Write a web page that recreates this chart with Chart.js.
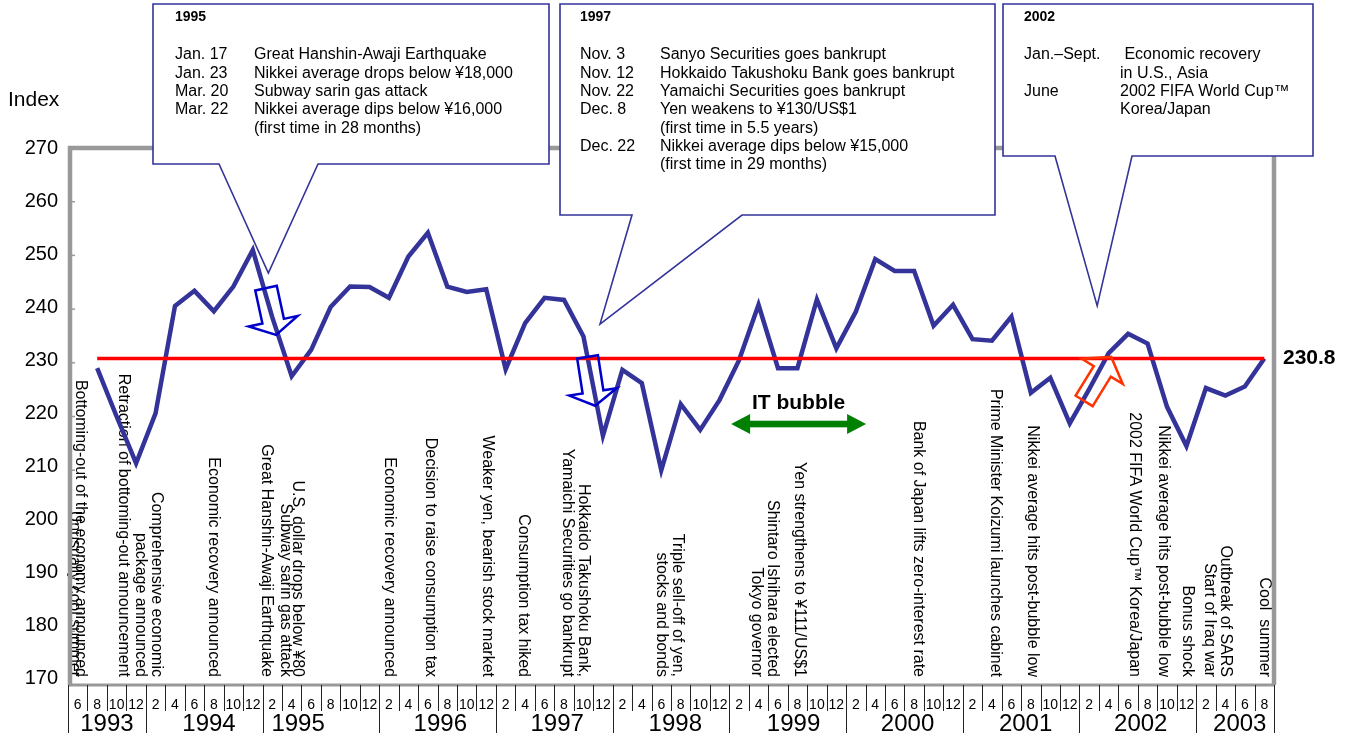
<!DOCTYPE html>
<html>
<head>
<meta charset="utf-8">
<script src="https://cdn.jsdelivr.net/npm/chart.js@4"></script>
<style>
  html, body { margin: 0; padding: 0; background: #ffffff; }
  canvas { display: block; }
</style>
</head>
<body>
<canvas id="chart" width="1353" height="739"></canvas>
<script>
// ---- data -------------------------------------------------------------
// bimonthly categories, June 1993 to August 2003
const monthLabels = [
  '6', '8', '10', '12',                    // 1993
  '2', '4', '6', '8', '10', '12',          // 1994
  '2', '4', '6', '8', '10', '12',          // 1995
  '2', '4', '6', '8', '10', '12',          // 1996
  '2', '4', '6', '8', '10', '12',          // 1997
  '2', '4', '6', '8', '10', '12',          // 1998
  '2', '4', '6', '8', '10', '12',          // 1999
  '2', '4', '6', '8', '10', '12',          // 2000
  '2', '4', '6', '8', '10', '12',          // 2001
  '2', '4', '6', '8', '10', '12',          // 2002
  '2', '4', '6', '8'                       // 2003
];
const yearLabels = ['1993', '1994', '1995', '1996', '1997', '1998', '1999', '2000', '2001', '2002', '2003'];
const yearFirstCategory = [0, 4, 10, 16, 22, 28, 34, 40, 46, 52, 58];

const indexValues = [
  null, 229.0, 220.0, 211.3,
  220.6, 240.6, 243.4, 239.6, 244.2, 251.0,
  238.5, 227.5, 232.4, 240.4, 244.2, 244.1,
  242.1, 249.8, 254.2, 244.2, 243.2, 243.7,
  228.8, 237.4, 242.1, 241.7, 234.9, 216.4,
  228.7, 226.2, 210.0, 222.3, 217.5, 223.1,
  230.5, 240.8, 229.0, 229.0, 241.8, 232.7,
  239.5, 249.3, 247.1, 247.1, 236.9, 240.8,
  234.4, 234.1, 238.6, 224.4, 227.2, 218.7,
  225.1, 231.8, 235.4, 233.6, 221.8, 214.5,
  225.3, 223.9, 225.6, 230.8
];
const currentLevel = 230.8;
const yTickValues = [170, 180, 190, 200, 210, 220, 230, 240, 250, 260, 270];

// ---- annotation text ----------------------------------------------------
const eventNotes = [
  { at: 0.15,  lines: ['Bottoming-out of the economy announced'] },
  { at: -0.15, lines: ['Unusually cool summer'] },
  { at: 2.37,  lines: ['Retraction of bottoming-out announcement'] },
  { at: 4.05,  lines: ['Comprehensive economic', 'package announced'] },
  { at: 6.97,  lines: ['Economic recovery announced'] },
  { at: 11.31, lines: ['U.S. dollar drops below \u00a580'] },
  { at: 10.7,  lines: ['Subway sarin gas attack'] },
  { at: 9.72,  lines: ['Great Hanshin-Awaji Earthquake'] },
  { at: 16.01, lines: ['Economic recovery announced'] },
  { at: 18.13, lines: ['Decision to raise consumption tax'] },
  { at: 21.05, lines: ['Weaker yen, bearish stock market'] },
  { at: 22.92, lines: ['Consumption tax hiked'] },
  { at: 26.01, lines: ['Hokkaido Takushoku Bank,', 'Yamaichi Securities go bankrupt'] },
  { at: 30.83, lines: ['Triple sell-off of yen,', 'stocks and bonds'] },
  { at: 37.1,  lines: ['Yen strengthens to \u00a5111/US$1'] },
  { at: 35.72, lines: ['Shintaro Ishihara elected', 'Tokyo governor'] },
  { at: 43.22, lines: ['Bank of Japan lifts zero-interest rate'] },
  { at: 47.2,  lines: ['Prime Minister Koizumi launches cabinet'] },
  { at: 49.09, lines: ['Nikkei average hits post-bubble low'] },
  { at: 54.34, lines: ['2002 FIFA World Cup\u2122 Korea/Japan'] },
  { at: 55.83, lines: ['Nikkei average hits post-bubble low'] },
  { at: 57.06, lines: ['Bonus shock'] },
  { at: 59.02, lines: ['Outbreak of SARS', 'Start of Iraq war'] },
  { at: 61.03, lines: ['Cool  summer'] }
];

const callouts = [
  {
    box: [153, 4, 549, 164], base: [219, 318], tip: [9.8, 246.7],
    year: '1995', dateX: 175, textX: 254,
    rows: [
      ['Jan. 17', 'Great Hanshin-Awaji Earthquake'],
      ['Jan. 23', 'Nikkei average drops below \u00a518,000'],
      ['Mar. 20', 'Subway sarin gas attack'],
      ['Mar. 22', 'Nikkei average dips below \u00a516,000'],
      ['', '(first time in 28 months)']
    ]
  },
  {
    box: [560, 4, 995, 215], base: [632, 742], tip: [26.85, 237.2],
    year: '1997', dateX: 580, textX: 660,
    rows: [
      ['Nov. 3', 'Sanyo Securities goes bankrupt'],
      ['Nov. 12', 'Hokkaido Takushoku Bank goes bankrupt'],
      ['Nov. 22', 'Yamaichi Securities goes bankrupt'],
      ['Dec. 8', 'Yen weakens to \u00a5130/US$1'],
      ['', '(first time in 5.5 years)'],
      ['Dec. 22', 'Nikkei average dips below \u00a515,000'],
      ['', '(first time in 29 months)']
    ]
  },
  {
    box: [1003, 4, 1313, 156], base: [1055, 1132], tip: [52.41, 240.6],
    year: '2002', dateX: 1024, textX: 1120,
    rows: [
      ['Jan.\u2013Sept.', ' Economic recovery'],
      ['', 'in U.S., Asia'],
      ['June', '2002 FIFA World Cup\u2122'],
      ['', 'Korea/Japan']
    ]
  }
];

const FONT = '"Liberation Sans", Arial, Helvetica, sans-serif';
const NAVY = '#333399';

// hollow block arrow, outline only
function hollowArrow(ctx, x0, y0, x1, y1, shaftW, headW, headL, color, lw) {
  const dx = x1 - x0, dy = y1 - y0, len = Math.hypot(dx, dy);
  const ux = dx / len, uy = dy / len, px = -uy, py = ux;
  const bx = x1 - ux * headL, by = y1 - uy * headL;
  const pts = [
    [x0 + px * shaftW / 2, y0 + py * shaftW / 2],
    [bx + px * shaftW / 2, by + py * shaftW / 2],
    [bx + px * headW / 2, by + py * headW / 2],
    [x1, y1],
    [bx - px * headW / 2, by - py * headW / 2],
    [bx - px * shaftW / 2, by - py * shaftW / 2],
    [x0 - px * shaftW / 2, y0 - py * shaftW / 2]
  ];
  ctx.beginPath();
  pts.forEach((p, k) => k ? ctx.lineTo(p[0], p[1]) : ctx.moveTo(p[0], p[1]));
  ctx.closePath();
  ctx.strokeStyle = color;
  ctx.lineWidth = lw;
  ctx.lineJoin = 'miter';
  ctx.stroke();
}

const decorations = {
  id: 'decorations',
  beforeDatasetsDraw(chart) {
    const { ctx, chartArea: a, scales: { x, y } } = chart;
    ctx.save();

    // vertical event notes along the bottom of the plot
    ctx.fillStyle = '#000';
    ctx.font = '16px ' + FONT;
    const noteBottom = y.getPixelForValue(170) - 8;
    eventNotes.forEach(n => {
      const px = x.getPixelForValue(n.at);
      n.lines.forEach((t, k) => {
        ctx.save();
        ctx.translate(px - k * 16, noteBottom);
        ctx.rotate(Math.PI / 2);
        ctx.textAlign = 'right';
        ctx.textBaseline = 'middle';
        ctx.fillText(t, 0, 0);
        ctx.restore();
      });
    });

    // frame
    ctx.strokeStyle = '#999999';
    ctx.lineWidth = 4.5;
    ctx.beginPath();
    ctx.moveTo(a.left + 2, a.bottom);
    ctx.lineTo(a.left + 2, a.top);
    ctx.lineTo(a.right, a.top);
    ctx.lineTo(a.right, a.bottom);
    ctx.stroke();

    // left axis ticks and labels
    ctx.lineWidth = 1.5;
    yTickValues.forEach(v => {
      const py = y.getPixelForValue(v);
      ctx.beginPath();
      ctx.moveTo(a.left + 2, py);
      ctx.lineTo(a.left + 7, py);
      ctx.stroke();
    });
    ctx.fillStyle = '#000';
    ctx.font = '20px ' + FONT;
    ctx.textAlign = 'right';
    ctx.textBaseline = 'middle';
    yTickValues.forEach(v => {
      const py = y.getPixelForValue(v) - (270 - v) * 0.07;
      ctx.fillText(String(v), 58, py);
    });
    ctx.font = '21px ' + FONT;
    ctx.textAlign = 'left';
    ctx.fillText('Index', 8, 100);

    // bottom axis
    const n = monthLabels.length;
    ctx.strokeStyle = '#999999';
    ctx.lineWidth = 3;
    ctx.beginPath();
    ctx.moveTo(a.left, a.bottom);
    ctx.lineTo(a.right, a.bottom);
    ctx.stroke();

    ctx.strokeStyle = '#222';
    ctx.lineWidth = 1;
    const longTicks = new Set([...yearFirstCategory, n]);
    for (let k = 0; k <= n; k++) {
      const px = Math.round(x.getPixelForValue(k - 0.5)) + 0.5;
      ctx.beginPath();
      ctx.moveTo(px, a.bottom);
      ctx.lineTo(px, a.bottom + (longTicks.has(k) ? 48 : 26));
      ctx.stroke();
    }

    ctx.font = '14px ' + FONT;
    ctx.textAlign = 'center';
    monthLabels.forEach((m, i) => {
      ctx.fillText(m, x.getPixelForValue(i), a.bottom + 20);
    });

    ctx.font = '24px ' + FONT;
    const yearLabelAt = [1.5, 6.75, 11.33, 18.64, 24.65, 30.72, 36.8, 42.66, 48.73, 54.65, 59.74];
    yearLabels.forEach((yl, k) => {
      ctx.fillText(yl, x.getPixelForValue(yearLabelAt[k]), a.bottom + 39);
    });

    ctx.restore();
  },

  afterDatasetsDraw(chart) {
    const { ctx, chartArea: a, scales: { x, y } } = chart;
    ctx.save();

    // event arrows
    hollowArrow(ctx, x.getPixelForValue(9.68), y.getPixelForValue(243.9),
                x.getPixelForValue(10.2), y.getPixelForValue(235.2), 22, 50, 14, '#0000cc', 2.5);
    hollowArrow(ctx, x.getPixelForValue(26.21), y.getPixelForValue(231.1),
                x.getPixelForValue(26.6), y.getPixelForValue(222.0), 21, 48, 14, '#0000cc', 2.5);
    hollowArrow(ctx, x.getPixelForValue(51.74), y.getPixelForValue(222.9),
                x.getPixelForValue(53.13), y.getPixelForValue(231.1), 20, 48, 17, '#ff3300', 2.5);

    // IT bubble span
    const gx0 = x.getPixelForValue(33.59), gx1 = x.getPixelForValue(40.53);
    const gy = y.getPixelForValue(218.6);
    ctx.fillStyle = '#008000';
    ctx.fillRect(gx0 + 16, gy - 3.3, gx1 - gx0 - 32, 6.6);
    ctx.beginPath();
    ctx.moveTo(gx0, gy); ctx.lineTo(gx0 + 19, gy - 10); ctx.lineTo(gx0 + 19, gy + 10); ctx.closePath();
    ctx.moveTo(gx1, gy); ctx.lineTo(gx1 - 19, gy - 10); ctx.lineTo(gx1 - 19, gy + 10); ctx.closePath();
    ctx.fill();
    ctx.fillStyle = '#000';
    ctx.font = 'bold 21px ' + FONT;
    ctx.textAlign = 'center';
    ctx.textBaseline = 'middle';
    ctx.fillText('IT bubble', (gx0 + gx1) / 2, gy - 21);

    // level label
    ctx.textAlign = 'left';
    ctx.fillText(String(currentLevel), a.right + 9, y.getPixelForValue(currentLevel));

    // callouts
    callouts.forEach(c => {
      const [L, T, R, B] = c.box;
      const tx = x.getPixelForValue(c.tip[0]), ty = y.getPixelForValue(c.tip[1]);
      ctx.beginPath();
      ctx.moveTo(L, T);
      ctx.lineTo(R, T);
      ctx.lineTo(R, B);
      ctx.lineTo(c.base[1], B);
      ctx.lineTo(tx, ty);
      ctx.lineTo(c.base[0], B);
      ctx.lineTo(L, B);
      ctx.closePath();
      ctx.fillStyle = '#ffffff';
      ctx.fill();
      ctx.strokeStyle = NAVY;
      ctx.lineWidth = 1.6;
      ctx.lineJoin = 'miter';
      ctx.stroke();

      ctx.fillStyle = '#000';
      ctx.textAlign = 'left';
      ctx.textBaseline = 'middle';
      ctx.font = 'bold 14px ' + FONT;
      ctx.fillText(c.year, c.dateX, T + 13);
      ctx.font = '16px ' + FONT;
      c.rows.forEach((r, k) => {
        const ry = T + 51 + k * 18.3;
        if (r[0]) ctx.fillText(r[0], c.dateX, ry);
        ctx.fillText(r[1], c.textX, ry);
      });
    });

    ctx.restore();
  }
};

new Chart(document.getElementById('chart'), {
  type: 'line',
  data: {
    labels: monthLabels,
    datasets: [
      {
        label: 'Current level',
        data: indexValues.map(v => (v === null ? null : currentLevel)),
        borderColor: '#ff0000',
        borderWidth: 3.5,
        pointRadius: 0,
        fill: false,
        order: 0
      },
      {
        label: 'Index',
        data: indexValues,
        borderColor: NAVY,
        borderWidth: 4.5,
        pointRadius: 0,
        tension: 0,
        fill: false,
        order: 1
      }
    ]
  },
  options: {
    responsive: false,
    animation: false,
    devicePixelRatio: 1,
    layout: { padding: { left: 68, right: 79, top: 148, bottom: 54 } },
    scales: {
      x: { type: 'category', offset: true, display: false },
      y: { min: 170, max: 270, display: false }
    },
    plugins: {
      legend: { display: false },
      tooltip: { enabled: false }
    }
  },
  plugins: [decorations]
});
</script>
</body>
</html>
